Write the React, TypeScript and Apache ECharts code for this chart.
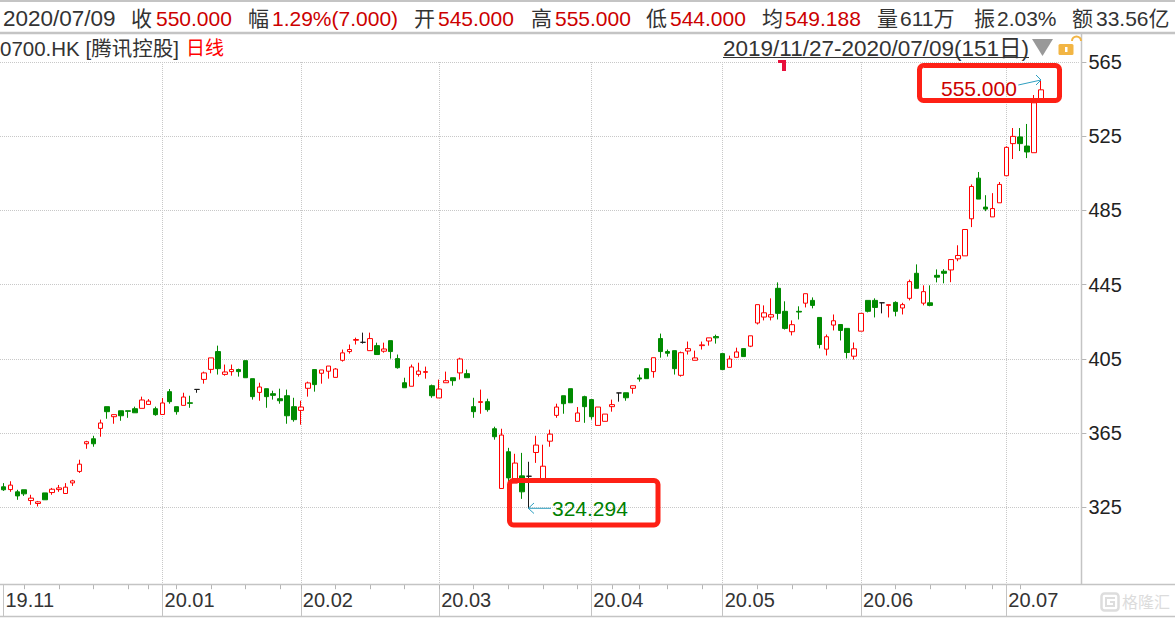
import React, { useEffect, useRef } from 'react';
import * as echarts from 'echarts';

const dates = [
  '19/11/27','19/11/28','19/11/29',
  '19/12/02','19/12/03','19/12/04','19/12/05','19/12/06','19/12/09','19/12/10','19/12/11','19/12/12','19/12/13',
  '19/12/16','19/12/17','19/12/18','19/12/19','19/12/20','19/12/23','19/12/24','19/12/27','19/12/30','19/12/31',
  '20/01/02','20/01/03','20/01/06','20/01/07','20/01/08','20/01/09','20/01/10','20/01/13','20/01/14','20/01/15',
  '20/01/16','20/01/17','20/01/20','20/01/21','20/01/22','20/01/23','20/01/24','20/01/29','20/01/30','20/01/31',
  '20/02/03','20/02/04','20/02/05','20/02/06','20/02/07','20/02/10','20/02/11','20/02/12','20/02/13','20/02/14',
  '20/02/17','20/02/18','20/02/19','20/02/20','20/02/21','20/02/24','20/02/25','20/02/26','20/02/27','20/02/28',
  '20/03/02','20/03/03','20/03/04','20/03/05','20/03/06','20/03/09','20/03/10','20/03/11','20/03/12','20/03/13',
  '20/03/16','20/03/17','20/03/18','20/03/19','20/03/20','20/03/23','20/03/24','20/03/25','20/03/26','20/03/27',
  '20/03/30','20/03/31',
  '20/04/01','20/04/02','20/04/03','20/04/06','20/04/07','20/04/08','20/04/09','20/04/14','20/04/15','20/04/16',
  '20/04/17','20/04/20','20/04/21','20/04/22','20/04/23','20/04/24','20/04/27','20/04/28','20/04/29',
  '20/05/04','20/05/05','20/05/06','20/05/07','20/05/08','20/05/11','20/05/12','20/05/13','20/05/14','20/05/15',
  '20/05/18','20/05/19','20/05/20','20/05/21','20/05/22','20/05/25','20/05/26','20/05/27','20/05/28','20/05/29',
  '20/06/01','20/06/02','20/06/03','20/06/04','20/06/05','20/06/08','20/06/09','20/06/10','20/06/11','20/06/12',
  '20/06/15','20/06/16','20/06/17','20/06/18','20/06/19','20/06/22','20/06/23','20/06/24','20/06/26','20/06/29','20/06/30',
  '20/07/02','20/07/03','20/07/06','20/07/07','20/07/08','20/07/09',
];

const opens = [
  336.0,334.5,333.3,334.4,328.6,327.0,332.7,332.9,334.5,332.4,
  338.1,344.3,359.2,361.9,367.5,379.2,373.8,377.0,377.0,378.1,
  378.3,380.4,378.1,375.0,387.3,379.2,379.9,381.3,388.5,393.9,
  399.3,408.9,396.6,398.1,399.2,404.0,394.3,386.9,388.9,386.2,
  383.5,385.1,379.2,377.2,389.1,399.2,397.2,398.3,395.0,404.2,
  408.9,415.0,413.9,409.4,412.1,409.1,414.8,405.1,392.1,390.2,
  396.6,397.7,390.5,383.9,392.1,394.8,397.4,397.0,379.2,381.5,
  381.9,367.3,335.1,354.9,338.0,341.9,341.7,354.5,339.8,360.6,
  374.5,385.1,388.9,371.3,384.6,383.0,369.1,371.3,379.2,386.6,
  386.7,389.1,394.7,399.7,398.1,415.9,408.9,409.4,396.1,409.2,
  404.2,412.1,414.6,417.0,407.8,400.4,405.8,410.5,411.8,424.3,
  427.5,427.5,443.0,430.6,419.6,430.6,435.0,436.5,427.3,410.2,
  423.2,423.5,421.4,406.4,419.9,436.5,436.5,435.2,433.8,435.4,
  432.4,437.6,451.1,435.0,435.2,450.0,452.2,452.9,458.9,460.5,
  480.5,502.4,486.8,481.5,489.1,503.7,521.0,524.6,519.7,516.1,
  545.0,
];
const closes = [
  334.4,336.9,331.1,332.2,329.9,327.9,329.0,334.7,335.4,335.8,
  339.2,348.2,360.3,359.2,370.4,376.5,374.9,374.3,376.7,375.9,
  382.8,382.2,374.9,381.2,381.9,376.5,384.4,381.0,388.5,397.4,
  405.5,399.7,397.9,399.2,398.1,394.8,384.6,389.8,384.6,385.3,
  382.4,374.3,372.2,379.0,392.0,391.1,399.0,401.1,399.5,408.2,
  410.0,415.4,413.9,415.9,407.3,410.3,408.9,400.2,389.4,400.6,
  398.4,398.1,385.1,388.7,393.2,393.2,404.9,394.8,376.5,381.9,
  377.6,363.0,363.9,340.8,348.8,333.3,341.7,358.5,347.1,364.4,
  379.0,380.8,381.3,375.8,379.2,373.8,379.0,375.2,380.3,386.6,
  384.0,390.5,394.1,394.3,405.6,408.9,408.0,399.7,408.3,410.5,
  405.5,412.5,416.3,416.3,399.2,404.9,408.7,406.2,417.4,434.2,
  429.8,428.8,429.5,421.4,423.4,430.2,440.1,433.8,412.7,416.9,
  425.5,420.3,408.4,410.4,429.5,430.6,432.7,435.2,434.2,430.6,
  434.2,446.6,443.0,441.2,433.8,449.0,451.1,458.5,460.7,474.7,
  497.9,491.1,485.7,486.0,499.0,519.0,524.9,521.0,516.5,543.0,
  550.0,
];
const lows = [
  333.8,333.3,329.0,331.1,326.3,325.4,329.0,331.7,333.3,332.4,
  336.5,343.5,356.5,357.6,363.0,372.7,370.0,371.6,373.2,375.9,
  378.3,380.4,374.3,375.0,380.8,374.9,379.9,378.6,386.7,391.6,
  397.2,396.5,395.9,395.9,395.4,394.8,383.0,382.4,378.6,383.0,
  380.8,370.0,371.1,369.5,384.6,387.3,391.6,394.3,395.0,403.5,
  407.8,412.7,413.2,409.4,407.3,408.3,405.1,399.7,389.4,390.2,
  395.4,394.3,384.0,383.9,392.1,390.5,393.8,394.8,373.2,375.4,
  376.5,361.4,335.1,338.0,338.0,329.5,324.294,348.9,339.8,357.6,
  373.2,375.4,381.3,371.3,370.5,372.2,369.1,371.3,376.5,381.9,
  382.4,386.2,392.7,394.3,394.8,405.6,406.2,396.5,395.4,407.3,
  404.2,410.0,412.1,413.2,399.2,400.4,405.8,406.2,411.3,423.5,
  425.7,425.7,426.2,420.8,417.6,426.2,432.7,432.2,410.6,406.8,
  420.3,414.9,405.2,404.6,419.9,430.0,427.3,429.5,427.3,427.9,
  428.9,436.5,443.0,433.8,433.3,446.2,445.7,446.3,457.6,460.5,
  476.0,491.1,484.6,481.5,489.1,503.7,512.7,517.0,513.2,516.1,
  544.0,
];
const highs = [
  338.0,339.0,334.4,334.4,331.7,328.4,332.7,335.4,337.0,338.0,
  339.8,350.6,360.8,363.5,372.2,379.2,374.9,377.0,377.0,379.2,
  384.6,383.3,379.2,383.9,388.7,379.2,386.7,385.1,388.5,398.1,
  405.5,412.1,401.9,401.9,399.7,404.0,394.3,392.1,388.9,387.8,
  388.9,388.4,384.0,382.4,392.7,399.2,399.0,401.1,400.0,410.0,
  412.7,416.4,419.1,419.1,413.7,413.7,414.8,407.3,394.8,401.9,
  402.9,400.8,391.1,393.8,398.1,394.8,405.6,399.2,384.0,388.4,
  383.5,368.4,367.3,357.0,353.8,354.3,349.5,363.5,358.7,366.8,
  380.8,385.1,388.9,379.0,385.1,383.0,379.0,375.2,383.0,386.6,
  386.7,390.5,396.5,399.7,405.6,418.6,410.0,409.4,408.9,414.3,
  409.4,414.3,416.3,418.0,407.8,406.7,411.0,410.5,417.4,434.2,
  433.8,437.6,446.2,436.0,425.7,433.3,440.1,438.1,427.3,418.1,
  428.9,423.5,421.4,413.8,429.5,436.5,437.6,435.2,434.2,436.0,
  435.2,447.7,455.9,444.6,444.6,453.2,453.3,458.5,466.2,474.7,
  499.0,505.7,493.2,494.3,500.3,519.5,529.4,529.4,531.6,547.2,
  555.0,
];

const priceTicks = [325, 365, 405, 445, 485, 525, 565];
const monthStarts = [0, 23, 43, 63, 85, 104, 124, 145];
const monthLabels = ['19.11', '20.01', '20.02', '20.03', '20.04', '20.05', '20.06', '20.07'];
const weekStarts = [3, 8, 13, 18, 21, 25, 30, 35, 40, 43, 48, 53, 58, 63, 68, 73, 78, 83, 88, 92, 96, 101, 104, 109, 114, 119, 124, 129, 134, 139, 143, 147];

const FONT = '"Liberation Sans", "Noto Sans CJK SC", sans-serif';
const RED = '#ff0000';
const GREEN = '#008a00';
const FRAME = '#c4c4c4';

// empty slots on the right, the real chart leaves the same gap before the price axis
const categories = [...dates, '', '', '', '', ''];
const candles = dates.map((_, i) => [opens[i], closes[i], lows[i], highs[i]]);

const txt = (text: string, x: number, y: number, fill: string, size = 21) => ({
  type: 'text',
  z: 110,
  style: { text, x, y, fill, font: `${size}px ${FONT}`, verticalAlign: 'middle' },
});
const line = (x1: number, y1: number, x2: number, y2: number, stroke: string, lineWidth = 1) => ({
  type: 'line',
  z: 100,
  shape: { x1, y1, x2, y2 },
  style: { stroke, lineWidth },
});
const box = (x: number, y: number, width: number, height: number) => ({
  type: 'rect',
  z: 100,
  shape: { x, y, width, height, r: 4 },
  style: { fill: 'none', stroke: '#fe2015', lineWidth: 5 },
});
const arrow = (points: number[][]) => ({
  type: 'polyline',
  z: 105,
  shape: { points },
  style: { fill: 'none', stroke: '#2f9fc0', lineWidth: 1 },
});

const DARK = '#333333';
const VALUE = '#cc0000';
const graphics = [
  line(0, 1, 1175, 1, FRAME, 2),
  line(0, 33, 1175, 33, FRAME, 2.5),
  line(1081.5, 33, 1081.5, 584.5, FRAME, 1.5),
  line(0, 584.5, 1175, 584.5, FRAME, 1.5),
  line(0, 616.5, 1175, 616.5, FRAME, 1.5),
  txt('2020/07/09', 3, 18, DARK, 22.5),
  txt('收', 131, 18, DARK), txt('550.000', 156, 18, VALUE),
  txt('幅', 248, 18, DARK), txt('1.29%(7.000)', 272, 18, VALUE),
  txt('开', 414, 18, DARK), txt('545.000', 438, 18, VALUE),
  txt('高', 531, 18, DARK), txt('555.000', 555, 18, VALUE),
  txt('低', 646, 18, DARK), txt('544.000', 670, 18, VALUE),
  txt('均', 762, 18, DARK), txt('549.188', 785, 18, VALUE),
  txt('量', 877, 18, DARK), txt('611万', 900, 18, DARK),
  txt('振', 974, 18, DARK), txt('2.03%', 997, 18, DARK),
  txt('额', 1072, 18, DARK), txt('33.56亿', 1096, 18, DARK),
  txt('0700.HK [腾讯控股]', 0, 48, DARK, 20.5),
  txt('日线', 186, 48, RED, 19),
  txt('2019/11/27-2020/07/09(151日)', 723, 48, DARK, 22.5),
  line(723, 57.5, 1029, 57.5, DARK, 1),
  { type: 'polygon', z: 100, shape: { points: [[1032, 39], [1053, 39], [1042.5, 56]] }, style: { fill: '#999999' } },
  { type: 'rect', z: 100, shape: { x: 1058.5, y: 44, width: 15, height: 11, r: 1.5 }, style: { fill: '#f2b544' } },
  { type: 'rect', z: 101, shape: { x: 1065, y: 47, width: 2.5, height: 5 }, style: { fill: '#ffffff' } },
  { type: 'arc', z: 100, shape: { cx: 1076.5, cy: 41, r: 4.5, startAngle: Math.PI, endAngle: Math.PI * 2 }, style: { fill: 'none', stroke: '#f2b544', lineWidth: 2 } },
  { type: 'polygon', z: 100, shape: { points: [[778, 60], [786, 60], [786, 71], [782, 71], [782, 63], [778, 63]] }, style: { fill: '#e8103c' } },
  box(509.5, 480.5, 148.5, 44.5),
  box(919.5, 65.5, 140, 35),
  txt('324.294', 552, 508, '#008000'),
  txt('555.000', 941, 88, '#cc0000'),
  arrow([[551, 508.3], [528.3, 508.3]]),
  arrow([[534, 503], [528.3, 508.3], [534, 513.5]]),
  arrow([[1018.3, 85], [1041, 80]]),
  arrow([[1036, 75], [1041, 80], [1036, 85]]),
  // watermark
  { type: 'rect', z: 100, shape: { x: 1101.5, y: 593.5, width: 17, height: 17, r: 3 }, style: { fill: 'none', stroke: '#dddddd', lineWidth: 2.5 } },
  { type: 'polyline', z: 100, shape: { points: [[1115, 598], [1106, 598], [1106, 606], [1114, 606], [1114, 602], [1110, 602]] }, style: { fill: 'none', stroke: '#dddddd', lineWidth: 2 } },
  txt('格隆汇', 1122, 602, '#dcdcdc', 16),
];

export default function App() {
  const ref = useRef<HTMLDivElement>(null);
  useEffect(() => {
    if (!ref.current) return;
    const chart = echarts.init(ref.current, undefined, { renderer: 'svg' });
    chart.setOption({
      animation: false,
      backgroundColor: '#ffffff',
      grid: [
        { left: -2.2, width: 1081.08, top: 62, height: 522.2 },
        { left: -2.2, width: 1081.08, top: 584.5, height: 32 },
      ],
      xAxis: [
        {
          type: 'category',
          gridIndex: 0,
          data: categories,
          axisLine: { show: true, lineStyle: { color: 'transparent' } },
          axisTick: {
            show: true,
            alignWithLabel: true,
            length: 5,
            lineStyle: { color: '#b4b4b4' },
            interval: (i: number) => weekStarts.includes(i),
          },
          axisLabel: {
            interval: (i: number) => monthStarts.includes(i),
            formatter: (_: string, i: number) => monthLabels[monthStarts.indexOf(i)] ?? '',
            align: 'left',
            padding: [0, 0, 0, 2],
            margin: 6,
            fontFamily: FONT,
            fontSize: 20,
            color: DARK,
          },
          splitLine: {
            show: true,
            alignWithLabel: true,
            showMinLine: false,
            interval: (i: number) => monthStarts.includes(i),
            lineStyle: { color: '#c8c8c8', type: [1, 1] },
          },
        },
        {
          type: 'category',
          gridIndex: 1,
          data: categories,
          axisLine: { show: false },
          axisTick: { show: false },
          axisLabel: { show: false },
          splitLine: {
            show: true,
            alignWithLabel: true,
            interval: (i: number) => monthStarts.includes(i),
            lineStyle: { color: FRAME, width: 1 },
          },
        },
      ],
      yAxis: [
        {
          type: 'value',
          gridIndex: 0,
          position: 'right',
          offset: 2.5,
          min: 283.5,
          max: 565,
          axisLine: { show: true, lineStyle: { color: 'transparent' } },
          axisTick: { show: true, length: 5, lineStyle: { color: '#b4b4b4' }, customValues: priceTicks },
          axisLabel: { customValues: priceTicks, margin: 7, fontFamily: FONT, fontSize: 20, color: '#222222' },
          splitLine: { show: true, lineStyle: { color: '#c8c8c8', type: [1, 1] } },
        },
        { type: 'value', gridIndex: 1, min: 0, max: 1, show: false },
      ],
      series: [
        {
          type: 'candlestick',
          xAxisIndex: 0,
          yAxisIndex: 0,
          data: candles,
          barWidth: 5,
          itemStyle: {
            color: '#ffffff',
            color0: GREEN,
            borderColor: RED,
            borderColor0: GREEN,
            borderColorDoji: '#1a1a1a',
            borderWidth: 1,
          },
        },
      ],
      graphic: graphics,
    });
    return () => { chart.dispose(); };
  }, []);
  return <div ref={ref} style={{ position: 'absolute', left: 0, top: 0, width: 1175, height: 618 }} />;
}
